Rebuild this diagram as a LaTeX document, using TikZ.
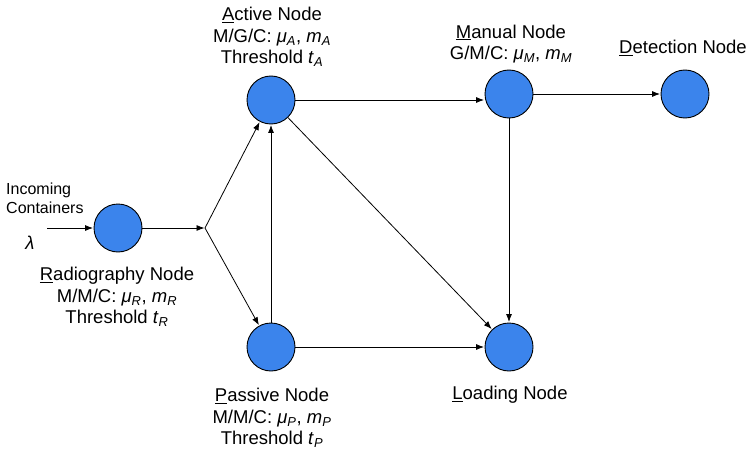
\documentclass[tikz,border=0pt]{standalone}
\usepackage{fontspec}
\setmainfont{Liberation Sans}
\usepackage{tikz}
\usetikzlibrary{arrows,arrows.meta,positioning}

\definecolor{nodeblue}{RGB}{59,132,236}
\newcommand{\vsub}[2]{\textit{#1}\textsubscript{\textit{#2}}}

\tikzset{
  station/.style={circle,draw=black,line width=0.9pt,fill=nodeblue,minimum size=48pt,inner sep=0pt},
  lbl/.style={align=center,inner sep=0pt,font=\fontsize{18.5}{21.5}\selectfont},
  flow/.style={-{Latex[length=8pt,width=6pt]},line width=0.8pt,shorten >=0.5pt}
}

\begin{document}
\begin{tikzpicture}[x=1pt,y=-1pt]
    \useasboundingbox (0,0) rectangle (747,452);
    % stations
    \node[station] at (118,228) (rad) {};
    \node[station] at (271,100) (act) {};
    \node[station] at (271,347) (pas) {};
    \node[station] at (509,94) (man) {};
    \node[station] at (685,94) (det) {};
    \node[station] at (509,347) (load) {};
    \coordinate (in) at (47,228);
    \coordinate (split) at (205,228);
    % labels
    \node[lbl,align=left,anchor=west,font=\fontsize{16}{19}\selectfont] at (6,198) (inlbl) {Incoming\\Containers};
    \node[lbl] at (30,243) (lam) {\textit{λ}};
    \node[lbl] at (117,297) (radlbl) {\underline{R}adiography Node\\M/M/C: \vsub{μ}{R}, \vsub{m}{R}\\Threshold \vsub{t}{R}};
    \node[lbl] at (272,37) (actlbl) {\underline{A}ctive Node\\M/G/C: \vsub{μ}{A}, \vsub{m}{A}\\Threshold \vsub{t}{A}};
    \node[lbl] at (511,44) (manlbl) {\underline{M}anual Node\\G/M/C: \vsub{μ}{M}, \vsub{m}{M}};
    \node[lbl] at (683,48) (detlbl) {\underline{D}etection Node};
    \node[lbl] at (272,418) (paslbl) {\underline{P}assive Node\\M/M/C: \vsub{μ}{P}, \vsub{m}{P}\\Threshold \vsub{t}{P}};
    \node[lbl] at (510,395) (loadlbl) {\underline{L}oading Node};
    % flows
    \draw[flow] (in) -- (rad);
    \draw[flow] (rad) -- (split);
    \draw[flow] (split) -- (act);
    \draw[flow] (split) -- (pas);
    \draw[flow] (pas) -- (act);
    \draw[flow] (act.east) -- (act.east -| man.west);
    \draw[flow] (man) -- (det);
    \draw[flow] (act) -- (load);
    \draw[flow] (man) -- (load);
    \draw[flow] (pas) -- (load);
  \end{tikzpicture}
\end{document}
